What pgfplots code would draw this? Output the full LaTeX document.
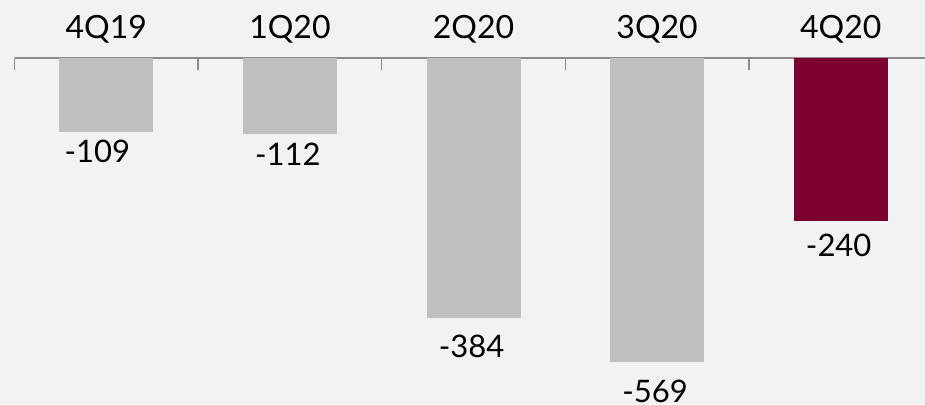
\documentclass[border=0pt]{standalone}
\usepackage{fontspec}
\setmainfont{Lato}
\usepackage{pgfplots}
\pgfplotsset{compat=1.18}
\definecolor{bg}{HTML}{F2F2F2}
\definecolor{barg}{HTML}{BFBFBF}
\definecolor{barr}{HTML}{7B0030}
\definecolor{axg}{HTML}{8C8C8C}
\begin{document}
\begin{tikzpicture}[x=1pt,y=1pt]
\useasboundingbox (0,0) rectangle (925,404);
\fill[bg] (0,0) rectangle (925,404);
\clip (0,0) rectangle (925,404);
\begin{axis}[
  at={(14.5pt,346pt)}, anchor=north west,
  scale only axis, width=918pt, height=339pt,
  xmin=-0.5, xmax=4.5, ymin=-500, ymax=0,
  axis y line=none, axis x line*=top,
  axis line style={axg, line width=1.5pt},
  xtick={0,...,4}, xticklabels={4Q19,1Q20,2Q20,3Q20,4Q20},
  major tick length=0pt,
  extra x ticks={-0.5,0.5,1.5,2.5,3.5},
  extra x tick labels={},
  extra x tick style={major tick length=12pt, tick align=inside, tick style={axg, line width=1.5pt}},
  xticklabel style={font=\fontsize{32}{38}\selectfont, anchor=base, yshift=19.5pt, text=black},
  ybar, bar width=94pt, bar shift=0pt,
  nodes near coords, point meta=explicit symbolic,
  every node near coord/.append style={anchor=north, inner sep=0pt, xshift=-2pt, font=\fontsize{31}{36}\selectfont, text=black},
]
\addplot[fill=barg, draw=none, every node near coord/.append style={yshift=-8.4pt, xshift=-7pt}] coordinates {(0,-109) [-109]};
\addplot[fill=barg, draw=none, every node near coord/.append style={yshift=-8.7pt}] coordinates {(1,-112) [-112]};
\addplot[fill=barg, draw=none, every node near coord/.append style={yshift=-16pt}] coordinates {(2,-384) [-384]};
\addplot[fill=barg, draw=none, every node near coord/.append style={yshift=-17pt}] coordinates {(3,-449) [-569]};
\addplot[fill=barr, draw=none, every node near coord/.append style={yshift=-13pt}] coordinates {(4,-240) [-240]};
\end{axis}
\end{tikzpicture}
\end{document}
